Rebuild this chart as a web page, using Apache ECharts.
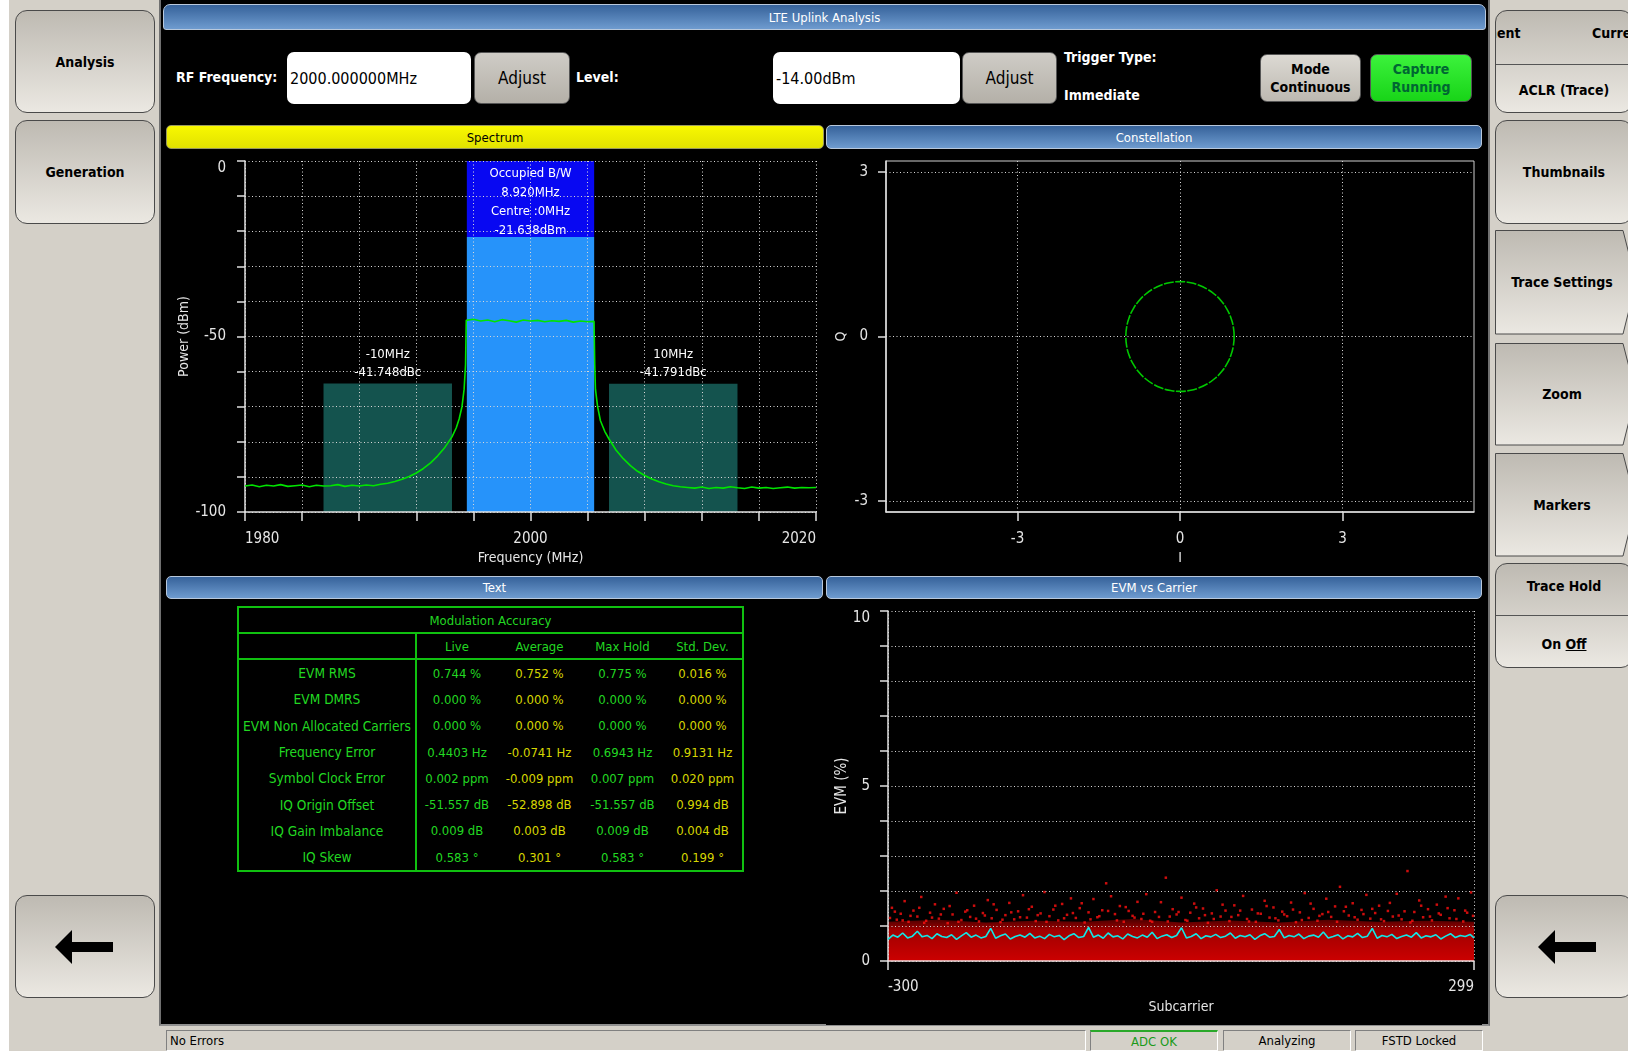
<!DOCTYPE html>
<html>
<head>
<meta charset="utf-8">
<title>LTE Uplink Analysis</title>
<script src="https://cdn.jsdelivr.net/npm/echarts@6.0.0/dist/echarts.min.js"></script>
<style>
body{margin:0;width:1628px;height:1051px;overflow:hidden;background:#d4d0c8;position:relative;font-family:"DejaVu Sans Condensed","DejaVu Sans",sans-serif;}
.abs{position:absolute;box-sizing:border-box;}
#strip{left:0;top:0;width:9px;height:1051px;background:#fff;}
#main{left:159px;top:0;width:1331px;height:1026px;background:#000;border-left:2px solid #707070;border-right:2px solid #707070;border-bottom:2px solid #909090;}
.btn{position:absolute;box-sizing:border-box;border:1px solid #4a4a4a;border-radius:12px;background:linear-gradient(#bebab2,#ebe8e2);display:flex;align-items:center;justify-content:center;font-weight:bold;font-size:14px;color:#000;text-align:center;}
.hdr{position:absolute;box-sizing:border-box;height:24px;border-radius:5px;border:1px solid #b8c8dc;background:linear-gradient(#36629a,#6e9bcf);color:#fff;font-size:13px;display:flex;align-items:center;justify-content:center;}
.hdr.yel{background:linear-gradient(#f8f800,#e2e200);color:#000;border-color:#9a9a60;}
.lbl{position:absolute;color:#fff;font-weight:bold;font-size:14px;white-space:nowrap;}
.inp{position:absolute;box-sizing:border-box;background:#fff;border-radius:7px;font-size:16px;color:#000;display:flex;align-items:center;padding-left:3px;}
.adj{position:absolute;box-sizing:border-box;border:1px solid #555;border-radius:7px;background:linear-gradient(#cfccc6,#b4b0a8);font-size:17px;color:#000;display:flex;align-items:center;justify-content:center;}
.mode{position:absolute;box-sizing:border-box;border:1px solid #555;border-radius:7px;font-size:14px;font-weight:bold;line-height:18px;display:flex;align-items:center;justify-content:center;text-align:center;}
.chart{position:absolute;}
.st{position:absolute;top:1030px;height:21px;box-sizing:border-box;border:1px solid;border-color:#808080 #fff #fff #808080;font-size:13px;display:flex;align-items:center;justify-content:center;color:#000;}
#modTable{position:absolute;left:237px;top:606px;width:505px;table-layout:fixed;border-collapse:collapse;border:2px solid #10c010;font-size:13px;}
#modTable td{padding:0;height:26.3px;text-align:center;white-space:nowrap;overflow:hidden;}
#modTable tr.h td{height:24px;}
#modTable td.nm{font-size:13.6px;}
.g{color:#22d822;}
.y{color:#d6d600;}
.split{position:absolute;box-sizing:border-box;border:1px solid #4a4a4a;border-radius:12px;background:linear-gradient(#bebab2,#ebe8e2);font-weight:bold;font-size:14px;overflow:hidden;}
.split .ln{position:absolute;left:0;right:0;height:1px;background:#555;}
.split .tx{position:absolute;left:0;right:0;text-align:center;}
.tabtxt{position:absolute;font-weight:bold;font-size:14px;display:flex;align-items:center;justify-content:center;}
</style>
</head>
<body>
<div id="strip" class="abs"></div>
<div id="main" class="abs"></div>

<!-- left side keys -->
<div class="btn" style="left:15px;top:10px;width:140px;height:103px;">Analysis</div>
<div class="btn" style="left:15px;top:120px;width:140px;height:104px;">Generation</div>
<div class="btn" style="left:15px;top:895px;width:140px;height:103px;">
  <svg width="60" height="34"><polygon points="0,17 17,0 17,12 58,12 58,22 17,22 17,34" fill="#000"/></svg>
</div>

<!-- right side keys -->
<div class="split" style="left:1495px;top:10px;width:138px;height:103px;">
  <div class="tx" style="top:14px;left:-73px;right:auto;width:92px;text-align:right;">Measurement</div>
  <div class="tx" style="top:14px;left:96px;right:auto;">Current</div>
  <div class="ln" style="top:53px;"></div>
  <div class="tx" style="top:71px;">ACLR (Trace)</div>
</div>
<div class="btn" style="left:1495px;top:120px;width:138px;height:104px;">Thumbnails</div>
<svg class="abs" style="left:1495px;top:230px;" width="140" height="105">
  <defs><linearGradient id="kg" x1="0" y1="0" x2="0" y2="1"><stop offset="0" stop-color="#bebab2"/><stop offset="1" stop-color="#ebe8e2"/></linearGradient></defs>
  <polygon points="0.5,0.5 128,0.5 134,24 134,80 128,104 0.5,104" fill="url(#kg)" stroke="#4a4a4a"/>
</svg>
<div class="tabtxt" style="left:1495px;top:230px;width:134px;height:104px;">Trace Settings</div>
<svg class="abs" style="left:1495px;top:343px;" width="140" height="103">
  <polygon points="0.5,0.5 128,0.5 134,24 134,78 128,102 0.5,102" fill="url(#kg)" stroke="#4a4a4a"/>
</svg>
<div class="tabtxt" style="left:1495px;top:343px;width:134px;height:102px;">Zoom</div>
<svg class="abs" style="left:1495px;top:453px;" width="140" height="104">
  <polygon points="0.5,0.5 128,0.5 134,24 134,79 128,103 0.5,103" fill="url(#kg)" stroke="#4a4a4a"/>
</svg>
<div class="tabtxt" style="left:1495px;top:453px;width:134px;height:103px;">Markers</div>
<div class="split" style="left:1495px;top:563px;width:138px;height:105px;">
  <div class="tx" style="top:14px;">Trace Hold</div>
  <div class="ln" style="top:51px;"></div>
  <div class="tx" style="top:72px;">On <u>Off</u></div>
</div>
<div class="btn" style="left:1495px;top:895px;width:138px;height:103px;justify-content:flex-start;padding-left:42px;">
  <svg width="60" height="34"><polygon points="0,17 17,0 17,12 58,12 58,22 17,22 17,34" fill="#000"/></svg>
</div>

<!-- title and controls -->
<div class="hdr" style="left:163px;top:4px;width:1323px;height:26px;border-radius:7px 7px 3px 3px;">LTE Uplink Analysis</div>
<div class="lbl" style="left:176px;top:69px;">RF Frequency:</div>
<div class="inp" style="left:287px;top:52px;width:184px;height:52px;">2000.000000MHz</div>
<div class="adj" style="left:474px;top:52px;width:96px;height:52px;">Adjust</div>
<div class="lbl" style="left:576px;top:69px;">Level:</div>
<div class="inp" style="left:773px;top:52px;width:187px;height:52px;">-14.00dBm</div>
<div class="adj" style="left:962px;top:52px;width:95px;height:52px;">Adjust</div>
<div class="lbl" style="left:1064px;top:49px;">Trigger Type:</div>
<div class="lbl" style="left:1064px;top:87px;">Immediate</div>
<div class="mode" style="left:1260px;top:54px;width:101px;height:48px;background:linear-gradient(#dcd9d3,#bdb9b1);color:#000;">Mode<br>Continuous</div>
<div class="mode" style="left:1370px;top:54px;width:102px;height:48px;background:linear-gradient(#3cf23c,#18d418);color:#063;">Capture<br>Running</div>

<!-- panel headers -->
<div class="hdr yel" style="left:166px;top:125px;width:658px;">Spectrum</div>
<div class="hdr" style="left:826px;top:125px;width:656px;">Constellation</div>
<div class="hdr" style="left:166px;top:576px;width:657px;height:23px;">Text</div>
<div class="hdr" style="left:826px;top:576px;width:656px;height:23px;">EVM vs Carrier</div>

<div id="spectrum" class="chart" style="left:166px;top:150px;width:657px;height:420px;"></div>
<div id="constellation" class="chart" style="left:826px;top:150px;width:656px;height:420px;"></div>
<div id="evm" class="chart" style="left:826px;top:600px;width:656px;height:425px;"></div>

<table id="modTable"></table>

<!-- status bar -->
<div class="st" style="left:166px;width:920px;justify-content:flex-start;padding-left:3px;">No Errors</div>
<div class="st" style="left:1090px;width:128px;color:#1a9a1a;border-top:2px solid #2aa82a;">ADC OK</div>
<div class="st" style="left:1223px;width:128px;">Analyzing</div>
<div class="st" style="left:1355px;width:128px;">FSTD Locked</div>

<script>
// ---------- spectrum data ----------
var specFreq = [1980,1980.5,1981,1981.5,1982,1982.5,1983,1983.5,1984,1984.5,1985,1985.5,1986,1986.5,1987,1987.5,1988,1988.5,1989,1989.5,
    1990,1990.5,1991,1991.5,1992,1992.5,1993,1993.5,1994,1994.5,1994.8,1995,1995.2,1995.35,1995.45,1995.5,
    1996,1996.5,1997,1997.5,1998,1998.5,1999,1999.5,2000,2000.5,2001,2001.5,2002,2002.5,2003,2003.5,2004,
    2004.45,2004.5,2004.55,2004.7,2004.9,2005.2,
    2005.5,2006,2006.5,2007,2007.5,2008,2008.5,2009,2009.5,2010,2010.5,2011,2011.5,2012,2012.5,2013,2013.5,2014,2014.5,2015,
    2015.5,2016,2016.5,2017,2017.5,2018,2018.5,2019,2019.5,2020];
var specPower = [-92.6,-92.3,-92.8,-92.4,-92.6,-92.2,-92.7,-92.5,-92.3,-92.8,-92.4,-92.6,-92.5,-92.2,-92.7,-92.4,-92.6,-92.3,-92.5,-92.1,
    -91.8,-91.3,-90.7,-89.9,-88.9,-87.6,-86.0,-84.0,-81.6,-78.6,-76.0,-73.5,-70.0,-65.0,-58.0,-45.4,
    -45.1,-45.6,-45.3,-45.8,-45.2,-45.5,-45.9,-45.3,-45.6,-45.4,-45.8,-45.5,-45.7,-45.4,-45.9,-45.6,-45.8,
    -45.7,-58.0,-65.0,-70.0,-74.0,-77.0,
    -79.2,-82.4,-84.8,-86.8,-88.4,-89.6,-90.6,-91.4,-92.0,-92.5,-92.8,-93.0,-93.2,-92.9,-93.3,-93.0,-93.2,-92.8,-93.1,-93.3,
    -92.9,-93.2,-93.0,-93.3,-93.1,-92.9,-93.2,-93.0,-93.1,-93.0];
var specXLabels = [1980, 2000, 2020];
var specYLabels = [0, -50, -100];
var centreFreq = 2000;      // MHz
var occupiedBw = 8.920;     // MHz
var centrePower = -21.638;  // dBm
var aclrOffset = [-10, 10]; // MHz
var aclrDbc = [-41.748, -41.791];
var aclrBw = 9;             // MHz

// ---------- constellation (unit ring) ----------
var ringI = [1,0.985,0.940,0.866,0.766,0.643,0.5,0.342,0.174,0,-0.174,-0.342,-0.5,-0.643,-0.766,-0.866,-0.940,-0.985,
    -1,-0.985,-0.940,-0.866,-0.766,-0.643,-0.5,-0.342,-0.174,0,0.174,0.342,0.5,0.643,0.766,0.866,0.940,0.985,1];
var ringQ = [0,0.174,0.342,0.5,0.643,0.766,0.866,0.940,0.985,1,0.985,0.940,0.866,0.766,0.643,0.5,0.342,0.174,
    0,-0.174,-0.342,-0.5,-0.643,-0.766,-0.866,-0.940,-0.985,-1,-0.985,-0.940,-0.866,-0.766,-0.643,-0.5,-0.342,-0.174,0];
var iqTicks = [-3, 0, 3];

// ---------- EVM vs carrier ----------
var evmCarrier = [-300,-295,-290,-285,-280,-275,-270,-265,-260,-255,-250,-245,-240,-235,-230,-225,-220,-215,-210,-205,
    -200,-195,-190,-185,-180,-175,-170,-165,-160,-155,-150,-145,-140,-135,-130,-125,-120,-115,-110,-105,
    -100,-95,-90,-85,-80,-75,-70,-65,-60,-55,-50,-45,-40,-35,-30,-25,-20,-15,-10,-5,
    0,5,10,15,20,25,30,35,40,45,50,55,60,65,70,75,80,85,90,95,
    100,105,110,115,120,125,130,135,140,145,150,155,160,165,170,175,180,185,190,195,
    200,205,210,215,220,225,230,235,240,245,250,255,260,265,270,275,280,285,290,295,299];
var evmAvg = [0.62,0.74,0.68,0.80,0.66,0.71,0.85,0.69,0.73,0.64,0.78,0.70,0.67,0.75,0.62,0.72,0.81,0.68,0.74,0.66,
    0.70,0.93,0.65,0.72,0.77,0.63,0.70,0.74,0.68,0.79,0.66,0.71,0.64,0.76,0.69,0.73,0.61,0.72,0.78,0.67,
    0.70,0.96,0.68,0.74,0.65,0.80,0.69,0.72,0.63,0.77,0.70,0.66,0.74,0.68,0.82,0.64,0.71,0.75,0.67,0.73,
    0.95,0.66,0.70,0.78,0.64,0.72,0.69,0.76,0.67,0.71,0.80,0.65,0.73,0.69,0.75,0.62,0.72,0.78,0.68,0.70,
    0.90,0.66,0.73,0.69,0.77,0.64,0.71,0.74,0.68,0.83,0.66,0.70,0.75,0.63,0.72,0.69,0.79,0.67,0.71,0.93,
    0.65,0.73,0.69,0.76,0.64,0.70,0.74,0.68,0.81,0.66,0.72,0.69,0.75,0.63,0.71,0.78,0.67,0.73,0.70,0.76,0.66];
// upper edge of the dense per-symbol cloud
var evmBandCarrier = [-300,-250,-200,-150,-100,-50,0,50,100,150,200,250,299];
var evmBandTop = [1.12,1.18,1.10,1.15,1.12,1.20,1.10,1.16,1.10,1.18,1.12,1.15,1.12];
// sparse symbols above the cloud [subcarrier, EVM %]
var evmOutliers = [[-296,1.52],[-291,1.18],[-287,1.35],[-283,1.71],[-279,1.12],[-274,1.44],[-270,1.27],[-266,1.83],[-261,1.15],[-257,1.38],
    [-252,1.62],[-248,1.21],[-243,1.49],[-239,1.08],[-234,1.33],[-230,1.95],[-225,1.17],[-221,1.41],[-216,1.26],[-212,1.58],
    [-207,1.13],[-203,1.37],[-198,1.74],[-194,1.22],[-189,1.46],[-185,1.11],[-180,1.31],[-176,1.66],[-171,1.19],[-167,1.42],
    [-162,1.88],[-158,1.24],[-153,1.55],[-149,1.14],[-144,1.36],[-140,1.97],[-135,1.28],[-131,1.47],[-126,1.16],[-122,1.63],
    [-117,1.32],[-113,1.79],[-108,1.23],[-104,1.51],[-99,1.10],[-95,1.39],[-90,1.77],[-86,1.25],[-81,1.45],[-77,2.22],
    [-72,1.85],[-68,1.34],[-63,1.57],[-59,1.12],[-54,1.43],[-50,1.29],[-45,1.69],[-41,1.20],[-36,1.91],[-32,1.15],
    [-27,1.40],[-23,1.26],[-16,2.38],[-14,1.13],[-9,1.48],[-5,1.33],[0,1.81],[4,1.17],[9,1.38],[13,1.64],
    [18,1.22],[22,1.50],[27,1.09],[31,1.36],[36,2.02],[40,1.27],[45,1.44],[49,1.14],[54,1.59],[58,1.31],
    [63,1.86],[67,1.20],[72,1.47],[76,1.12],[81,1.35],[85,1.72],[90,1.24],[94,1.53],[99,1.16],[103,1.41],
    [108,1.28],[112,1.67],[117,1.11],[121,1.39],[126,1.94],[130,1.23],[135,1.49],[139,1.15],[144,1.34],[148,1.78],
    [153,1.26],[157,1.56],[162,2.12],[166,1.42],[171,1.30],[175,1.65],[180,1.18],[184,1.46],[189,1.89],[193,1.21],
    [198,1.37],[202,1.58],[207,1.14],[211,1.43],[216,1.27],[220,1.92],[225,1.19],[231,2.57],[234,1.10],[238,1.40],
    [243,1.73],[247,1.25],[252,1.48],[256,1.16],[261,1.61],[265,1.32],[270,1.84],[274,1.22],[279,1.45],[283,1.79],
    [288,1.13],[292,1.38],[296,1.96],
    [-298,1.23],[-293,1.41],[-285,1.16],[-277,1.29],[-268,1.52],[-263,1.09],[-255,1.24],[-246,1.33],[-237,1.57],[-228,1.12],
    [-219,1.45],[-210,1.21],[-201,1.30],[-192,1.62],[-183,1.18],[-174,1.39],[-165,1.25],[-156,1.48],[-147,1.31],[-138,1.12],
    [-129,1.58],[-120,1.22],[-111,1.37],[-102,1.65],[-93,1.19],[-84,1.28],[-75,1.43],[-66,1.16],[-57,1.54],[-48,1.24],
    [-39,1.35],[-30,1.12],[-21,1.68],[-12,1.27],[-3,1.40],[6,1.15],[15,1.53],[24,1.31],[33,1.20],[42,1.61],
    [51,1.26],[60,1.44],[69,1.13],[78,1.36],[87,1.57],[96,1.22],[105,1.33],[114,1.47],[123,1.17],[132,1.64],
    [141,1.29],[150,1.40],[159,1.12],[168,1.55],[177,1.25],[186,1.34],[195,1.49],[204,1.19],[213,1.66],[222,1.30],
    [228,1.42],[236,1.15],[245,1.58],[254,1.27],[263,1.36],[272,1.51],[281,1.20],[290,1.44],[298,1.29]];
var evmYLabels = [0, 5, 10];

// ---------- modulation accuracy table ----------
var modRows = ['EVM RMS','EVM DMRS','EVM Non Allocated Carriers','Frequency Error','Symbol Clock Error','IQ Origin Offset','IQ Gain Imbalance','IQ Skew'];
var modCols = ['Live','Average','Max Hold','Std. Dev.'];
var modLive = ['0.744 %','0.000 %','0.000 %','0.4403 Hz','0.002 ppm','-51.557 dB','0.009 dB','0.583 °'];
var modAvg  = ['0.752 %','0.000 %','0.000 %','-0.0741 Hz','-0.009 ppm','-52.898 dB','0.003 dB','0.301 °'];
var modMax  = ['0.775 %','0.000 %','0.000 %','0.6943 Hz','0.007 ppm','-51.557 dB','0.009 dB','0.583 °'];
var modStd  = ['0.016 %','0.000 %','0.000 %','0.9131 Hz','0.020 ppm','0.994 dB','0.004 dB','0.199 °'];
var modColWidth = [178, 81, 85, 81, 80];

var FONT = '"DejaVu Sans Condensed","DejaVu Sans",sans-serif';
var TXT = '#e6e6e6';
var dotted = {show: true, lineStyle: {color: '#d8d8d8', type: [1, 2.5], width: 1}};

function zip(a, b){
    var out = [];
    for (var i = 0; i < a.length; i++) out.push([a[i], b[i]]);
    return out;
}

function initSpectrum(){
    var myChart = echarts.init(document.getElementById('spectrum'));
    var bwLeft = centreFreq - occupiedBw / 2;
    var bwRight = centreFreq + occupiedBw / 2;
    var areas = [
        [{xAxis: bwLeft, yAxis: 0, itemStyle: {color: '#0808f2'},
          label: {show: true, position: 'insideTop', distance: 3, color: '#fff', fontSize: 13, lineHeight: 19,
                  formatter: 'Occupied B/W\n' + occupiedBw.toFixed(3) + 'MHz\nCentre :' + (centreFreq - 2000) + 'MHz\n' + centrePower.toFixed(3) + 'dBm'}},
         {xAxis: bwRight, yAxis: centrePower}],
        [{xAxis: bwLeft, yAxis: centrePower, itemStyle: {color: '#2693fa'}}, {xAxis: bwRight, yAxis: -100}]
    ];
    // adjacent channel boxes
    for (var k = 0; k < aclrOffset.length; k++) {
        var c = centreFreq + aclrOffset[k];
        areas.push([
            {xAxis: c - aclrBw / 2, yAxis: centrePower + aclrDbc[k], itemStyle: {color: '#14534e'},
             label: {show: true, position: 'top', distance: 2, color: '#fff', fontSize: 13, lineHeight: 18,
                     formatter: aclrOffset[k] + 'MHz\n' + aclrDbc[k].toFixed(3) + 'dBc'}},
            {xAxis: c + aclrBw / 2, yAxis: -100}
        ]);
    }
    var option = {
        animation: false,
        backgroundColor: '#000',
        textStyle: {fontFamily: FONT},
        grid: {left: 79, right: 7, top: 11, bottom: 58, outerBoundsMode: 'none'},
        xAxis: {
            type: 'value', min: 1980, max: 2020, interval: 4, z: 5,
            name: 'Frequency (MHz)', nameLocation: 'middle', nameGap: 39, nameMoveOverlap: false,
            nameTextStyle: {color: TXT, fontSize: 14, fontFamily: FONT},
            axisLine: {onZero: false, lineStyle: {color: '#e0e0e0', width: 1.5}},
            axisTick: {length: 9, lineStyle: {color: '#e0e0e0', width: 1.5}},
            axisLabel: {color: TXT, fontSize: 15, margin: 20, fontFamily: FONT, alignMinLabel: 'left', alignMaxLabel: 'right',
                formatter: function(v){ return specXLabels.indexOf(v) >= 0 ? String(v) : ''; }},
            splitLine: dotted
        },
        yAxis: {
            type: 'value', min: -100, max: 0, interval: 10, z: 5,
            name: 'Power (dBm)', nameLocation: 'middle', nameGap: 54, nameRotate: 90, nameMoveOverlap: false,
            nameTextStyle: {color: TXT, fontSize: 14, fontFamily: FONT},
            axisLine: {onZero: false, lineStyle: {color: '#e0e0e0', width: 1.5}},
            axisTick: {length: 8, lineStyle: {color: '#e0e0e0', width: 1.5}},
            axisLabel: {color: TXT, fontSize: 15, margin: 19, fontFamily: FONT, verticalAlignMaxLabel: 'top',
                formatter: function(v){ return specYLabels.indexOf(v) >= 0 ? String(v) : ''; }},
            splitLine: dotted
        },
        series: [
            {type: 'line', data: [], z: 1, silent: true, markArea: {silent: true, data: areas}},
            {type: 'line', data: zip(specFreq, specPower), z: 6, showSymbol: false, symbol: 'none',
             lineStyle: {color: '#00e400', width: 1.6}}
        ]
    };
    myChart.setOption(option, true);
}

function initConstellation(){
    var myChart = echarts.init(document.getElementById('constellation'));
    var option = {
        animation: false,
        backgroundColor: '#000',
        textStyle: {fontFamily: FONT},
        grid: {left: 60, right: 8, top: 11, bottom: 58, outerBoundsMode: 'none', show: true, borderColor: '#cfcfcf', borderWidth: 1},
        xAxis: {
            type: 'value', min: -5.43, max: 5.43, z: 5,
            name: 'I', nameLocation: 'middle', nameGap: 39, nameMoveOverlap: false,
            nameTextStyle: {color: TXT, fontSize: 14, fontFamily: FONT},
            axisLine: {onZero: false, lineStyle: {color: '#e0e0e0', width: 1.5}},
            axisTick: {length: 9, customValues: iqTicks, lineStyle: {color: '#e0e0e0', width: 1.5}},
            axisLabel: {color: TXT, fontSize: 15, margin: 20, fontFamily: FONT, customValues: iqTicks},
            splitLine: dotted
        },
        yAxis: {
            type: 'value', min: -3.2, max: 3.2, z: 5,
            name: 'Q', nameLocation: 'middle', nameGap: 38, nameRotate: 90, nameMoveOverlap: false,
            nameTextStyle: {color: TXT, fontSize: 14, fontFamily: FONT},
            axisLine: {onZero: false, lineStyle: {color: '#e0e0e0', width: 1.5}},
            axisTick: {length: 8, customValues: iqTicks, lineStyle: {color: '#e0e0e0', width: 1.5}},
            axisLabel: {color: TXT, fontSize: 15, margin: 18, fontFamily: FONT, customValues: iqTicks},
            splitLine: dotted
        },
        series: [
            {type: 'line', data: zip(ringI, ringQ), smooth: true, showSymbol: false, symbol: 'none', z: 6,
             lineStyle: {color: '#00c800', width: 1.6, type: [10, 1.5]}}
        ]
    };
    myChart.setOption(option, true);
}

function initEvm(){
    var myChart = echarts.init(document.getElementById('evm'));
    var option = {
        animation: false,
        backgroundColor: '#000',
        textStyle: {fontFamily: FONT},
        grid: {left: 62, right: 8, top: 11, bottom: 64, outerBoundsMode: 'none'},
        xAxis: {
            type: 'value', min: -300, max: 299, interval: 599, z: 5,
            name: 'Subcarrier', nameLocation: 'middle', nameGap: 39, nameMoveOverlap: false,
            nameTextStyle: {color: TXT, fontSize: 14, fontFamily: FONT},
            axisLine: {onZero: false, lineStyle: {color: '#f0e0e0', width: 1.5}},
            axisTick: {length: 9, lineStyle: {color: '#e0e0e0', width: 1.5}},
            axisLabel: {color: TXT, fontSize: 15, margin: 19, fontFamily: FONT, alignMinLabel: 'left', alignMaxLabel: 'right'},
            splitLine: dotted
        },
        yAxis: {
            type: 'value', min: 0, max: 10, interval: 1, z: 5,
            name: 'EVM (%)', nameLocation: 'middle', nameGap: 38, nameRotate: 90, nameMoveOverlap: false,
            nameTextStyle: {color: TXT, fontSize: 15, fontFamily: FONT},
            axisLine: {onZero: false, lineStyle: {color: '#e0e0e0', width: 1.5}},
            axisTick: {length: 8, lineStyle: {color: '#e0e0e0', width: 1.5}},
            axisLabel: {color: TXT, fontSize: 15, margin: 18, fontFamily: FONT, verticalAlignMaxLabel: 'top',
                formatter: function(v){ return evmYLabels.indexOf(v) >= 0 ? String(v) : ''; }},
            splitLine: dotted
        },
        series: [
            {type: 'line', data: zip(evmBandCarrier, evmBandTop), showSymbol: false, symbol: 'none', z: 1,
             lineStyle: {width: 0},
             areaStyle: {opacity: 1, color: new echarts.graphic.LinearGradient(0, 0, 0, 1, [
                 {offset: 0, color: 'rgba(170,0,0,0.45)'},
                 {offset: 0.25, color: 'rgba(200,0,0,0.8)'},
                 {offset: 1, color: '#cc0000'}])}},
            {type: 'scatter', data: evmOutliers, symbol: 'rect', symbolSize: 2.5, z: 2,
             itemStyle: {color: '#ff1010'}},
            {type: 'line', data: zip(evmCarrier, evmAvg), showSymbol: false, symbol: 'none', z: 6,
             lineStyle: {color: '#10e8e8', width: 1.6}}
        ]
    };
    myChart.setOption(option, true);
}

function initTable(){
    var html = '<colgroup>';
    for (var w = 0; w < modColWidth.length; w++) html += '<col style="width:' + modColWidth[w] + 'px">';
    html += '</colgroup>';
    html += '<tr class="h" style="border-bottom:2px solid #10c010;"><td colspan="5" class="g">Modulation Accuracy</td></tr>';
    html += '<tr class="h" style="border-bottom:2px solid #10c010;"><td style="border-right:2px solid #10c010;"></td>';
    for (var c = 0; c < modCols.length; c++) {
        html += '<td class="g">' + modCols[c] + '</td>';
    }
    html += '</tr>';
    for (var r = 0; r < modRows.length; r++) {
        html += '<tr><td class="g nm" style="border-right:2px solid #10c010;">' + modRows[r] + '</td>' +
            '<td class="g">' + modLive[r] + '</td><td class="y">' + modAvg[r] + '</td>' +
            '<td class="g">' + modMax[r] + '</td><td class="y">' + modStd[r] + '</td></tr>';
    }
    document.getElementById('modTable').innerHTML = html;
}

initTable();
initSpectrum();
initConstellation();
initEvm();
</script>
</body>
</html>
